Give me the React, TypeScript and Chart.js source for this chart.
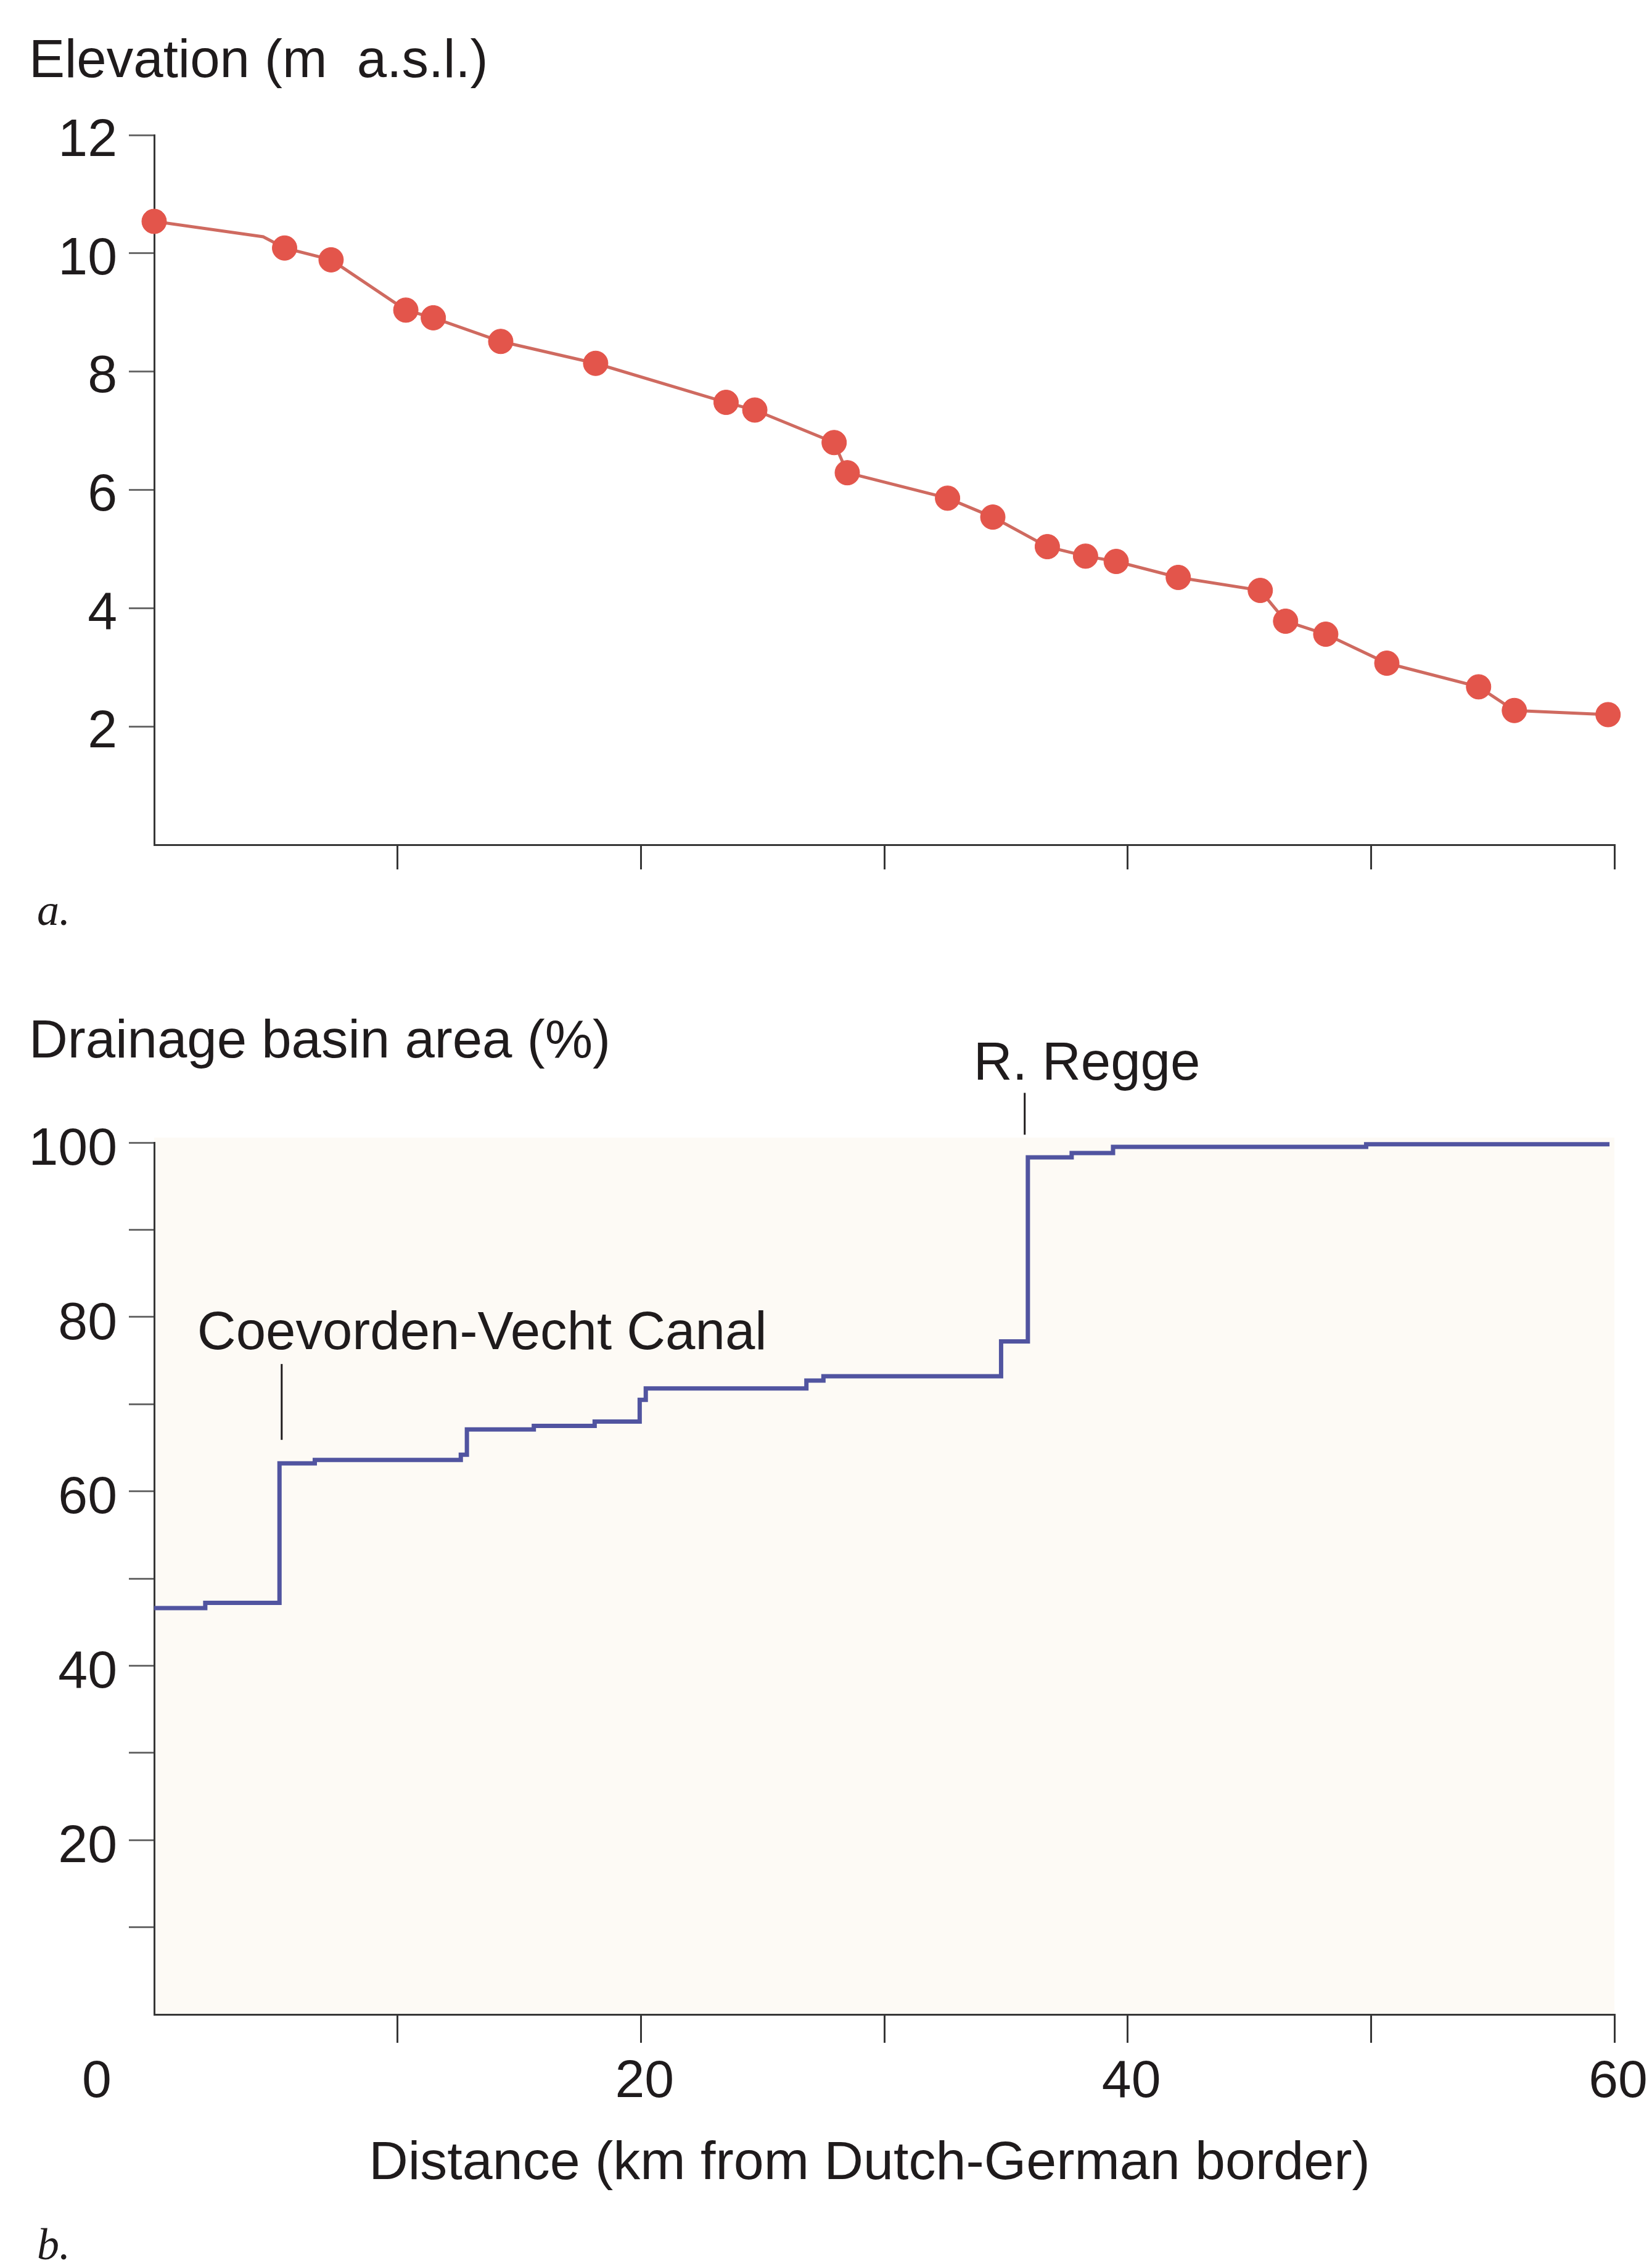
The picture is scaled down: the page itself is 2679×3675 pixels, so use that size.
import React, { useEffect, useRef } from 'react';
import { Chart, registerables } from 'chart.js';

Chart.register(...registerables);

const SANS = '"Liberation Sans", Arial, Helvetica, sans-serif';
const SERIF = '"Liberation Serif", "Times New Roman", serif';
const INK = '#1f1b1c';
const AXIS = '#363636';
const TICK_GREY = '#6a6a6a';
const MARKER_RED = '#e3554b';
const PROFILE_RED = '#cf6a60';
const STEP_BLUE = '#5154a0';
const PAPER = '#fdfaf5';

// ---------- shared x axis ----------
const distanceTicksKm = [0, 10, 20, 30, 40, 50, 60];
const distanceLabelsKm = [0, 20, 40, 60];

// ---------- panel a: elevation profile ----------
const elevationTickLabels = [2, 4, 6, 8, 10, 12];
const surveyKm = [0, 5.36, 7.27, 10.34, 11.47, 14.24, 18.14, 23.5, 24.68, 27.94, 28.48, 32.6, 34.46, 36.7, 38.27, 39.53, 42.08, 45.45, 46.49, 48.14, 50.65, 54.42, 55.89, 59.74];
const surveyElevation = [10.54, 10.09, 9.89, 9.04, 8.91, 8.51, 8.14, 7.48, 7.35, 6.8, 6.29, 5.86, 5.54, 5.04, 4.88, 4.79, 4.52, 4.3, 3.78, 3.56, 3.07, 2.67, 2.27, 2.2];
const profileKm = [0, 4.48, 5.36, 7.27, 10.34, 11.47, 14.24, 18.14, 23.5, 24.68, 27.94, 28.48, 32.6, 34.46, 36.7, 38.27, 39.53, 42.08, 45.45, 46.49, 48.14, 50.65, 54.42, 55.89, 59.74];
const profileElevation = [10.54, 10.28, 10.09, 9.89, 9.04, 8.91, 8.51, 8.14, 7.48, 7.35, 6.8, 6.29, 5.86, 5.54, 5.04, 4.88, 4.79, 4.52, 4.3, 3.78, 3.56, 3.07, 2.67, 2.27, 2.2];

// ---------- panel b: drainage basin area ----------
const basinTickLabels = [20, 40, 60, 80, 100];
const basinStepKm = [0, 2.1, 5.15, 6.6, 12.6, 12.85, 15.6, 18.1, 19.95, 20.2, 26.8, 27.5, 34.8, 35.9, 37.7, 39.4, 49.8, 59.8];
const basinAreaPct = [46.6, 47.2, 63.2, 63.6, 64.2, 67.1, 67.5, 68.0, 70.5, 71.8, 72.7, 73.2, 77.2, 98.3, 98.8, 99.5, 99.8, 99.8];

// annotations (label, leader line km, leader line from/to %, label anchor km / %)
const annotationText = ['Coevorden-Vecht Canal', 'R. Regge'];
const annotationLineKm = [5.24, 35.77];
const annotationLineFromPct = [65.9, 100.9];
const annotationLineToPct = [74.6, 105.7];
const annotationLabelKm = [1.77, 33.67];
const annotationLabelPct = [76.3, 107.2];

const TOP_H = 1560;
const BOTTOM_H = 2115;
const W = 2679;

const tickFont = { family: SANS, size: 86 };

function hideZero(color: string) {
  return (ctx: any) => (ctx.tick && ctx.tick.value === 0 ? 'rgba(0,0,0,0)' : color);
}

const panelAText = {
  id: 'panelAText',
  afterDraw(chart: any) {
    const ctx = chart.ctx;
    ctx.save();
    ctx.fillStyle = INK;
    ctx.textAlign = 'left';
    ctx.textBaseline = 'alphabetic';
    ctx.font = `87px ${SANS}`;
    ctx.fillText('Elevation (m  a.s.l.)', 47, 125);
    ctx.font = `italic 72px ${SERIF}`;
    ctx.fillText('a.', 60, 1500);
    ctx.restore();
  },
};

const panelBDecor = {
  id: 'panelBDecor',
  beforeDraw(chart: any) {
    const { ctx, chartArea } = chart;
    ctx.save();
    ctx.fillStyle = PAPER;
    ctx.fillRect(chartArea.left, chartArea.top - 8, chartArea.right - chartArea.left, chartArea.bottom - chartArea.top + 8);
    ctx.restore();
  },
  afterDraw(chart: any) {
    const ctx = chart.ctx;
    const xs = chart.scales.x;
    const ys = chart.scales.y;
    ctx.save();
    ctx.fillStyle = INK;
    ctx.textAlign = 'left';
    ctx.textBaseline = 'alphabetic';
    ctx.font = `87px ${SANS}`;
    ctx.fillText('Drainage basin area (%)', 47, 155);
    ctx.font = `italic 72px ${SERIF}`;
    ctx.fillText('b.', 60, 2104);

    // annotations
    ctx.font = `87px ${SANS}`;
    ctx.strokeStyle = INK;
    ctx.lineWidth = 3;
    for (let i = 0; i < annotationText.length; i++) {
      const lx = xs.getPixelForValue(annotationLineKm[i]);
      ctx.beginPath();
      ctx.moveTo(lx, ys.getPixelForValue(annotationLineFromPct[i]));
      ctx.lineTo(lx, ys.getPixelForValue(annotationLineToPct[i]));
      ctx.stroke();
      ctx.fillText(annotationText[i], xs.getPixelForValue(annotationLabelKm[i]), ys.getPixelForValue(annotationLabelPct[i]));
    }

    // the "0" distance label sits left of the y axis
    ctx.font = `86px ${SANS}`;
    ctx.textAlign = 'center';
    ctx.textBaseline = 'middle';
    const zeroX = xs.getPixelForValue(distanceLabelsKm[0]) - 93;
    const zeroY = xs.top + 46 + 13 + (86 * 1.2) / 2;
    ctx.fillText(String(distanceLabelsKm[0]), zeroX, zeroY);

    // axis title (drawn slightly left of centre as in the original figure)
    ctx.font = `88px ${SANS}`;
    ctx.textBaseline = 'alphabetic';
    ctx.fillText('Distance (km from Dutch-German border)', (xs.left + xs.right) / 2 - 24, xs.top + 267);
    ctx.restore();
  },
};

function xAxis(tickLength: number, height: number, labelled: boolean) {
  return {
    type: 'linear',
    min: 0,
    max: 60,
    afterBuildTicks: (scale: any) => {
      scale.ticks = distanceTicksKm.map((v) => ({ value: v }));
    },
    ticks: {
      autoSkip: false,
      maxRotation: 0,
      padding: 13,
      labelOffset: 6,
      font: tickFont,
      color: INK,
      callback: (v: any) => (labelled && v !== 0 && distanceLabelsKm.includes(v) ? String(v) : ''),
    },
    grid: {
      drawOnChartArea: false,
      drawTicks: true,
      tickLength,
      lineWidth: 3,
      color: hideZero(AXIS),
      tickColor: hideZero(AXIS),
    },
    border: { display: true, color: AXIS, width: 3 },
    afterFit: (scale: any) => {
      scale.height = height;
    },
  };
}

function yAxis(max: number, step: number, labels: number[], labelOffset: number) {
  return {
    type: 'linear',
    min: 0,
    max,
    ticks: {
      stepSize: step,
      autoSkip: false,
      padding: 19,
      labelOffset,
      font: tickFont,
      color: INK,
      callback: (v: any) => (labels.includes(v) ? String(v) : ''),
    },
    grid: {
      drawOnChartArea: false,
      drawTicks: true,
      tickLength: 41,
      lineWidth: 3,
      color: hideZero(TICK_GREY),
      tickColor: hideZero(TICK_GREY),
    },
    border: { display: true, color: AXIS, width: 3 },
    afterFit: (scale: any) => {
      scale.width = 250;
    },
  };
}

export default function App() {
  const topRef = useRef<HTMLCanvasElement | null>(null);
  const bottomRef = useRef<HTMLCanvasElement | null>(null);

  useEffect(() => {
    document.body.style.margin = '0';
    document.documentElement.style.overflow = 'hidden';

    const top = new Chart(topRef.current as HTMLCanvasElement, {
      type: 'scatter',
      data: {
        datasets: [
          {
            label: 'Survey points',
            data: surveyKm.map((x, i) => ({ x, y: surveyElevation[i] })),
            showLine: false,
            pointRadius: 20,
            pointBackgroundColor: MARKER_RED,
            pointBorderColor: MARKER_RED,
            pointBorderWidth: 1,
            clip: false,
            order: 0,
          },
          {
            label: 'Profile',
            data: profileKm.map((x, i) => ({ x, y: profileElevation[i] })),
            showLine: true,
            borderColor: PROFILE_RED,
            borderWidth: 5,
            pointRadius: 0,
            tension: 0,
            order: 1,
          },
        ],
      } as any,
      options: {
        responsive: false,
        animation: false,
        devicePixelRatio: 1,
        layout: { padding: { top: 219, right: 61, left: 0, bottom: 0 } },
        plugins: { legend: { display: false }, tooltip: { enabled: false }, title: { display: false } },
        scales: {
          x: xAxis(40, TOP_H - 1370, false),
          y: yAxis(12, 2, elevationTickLabels, 10),
        },
      } as any,
      plugins: [panelAText],
    });

    const bottom = new Chart(bottomRef.current as HTMLCanvasElement, {
      type: 'scatter',
      data: {
        datasets: [
          {
            label: 'Drainage basin area',
            data: basinStepKm.map((x, i) => ({ x, y: basinAreaPct[i] })),
            showLine: true,
            stepped: 'before',
            borderColor: STEP_BLUE,
            borderWidth: 7,
            pointRadius: 0,
            clip: false,
          },
        ],
      } as any,
      options: {
        responsive: false,
        animation: false,
        devicePixelRatio: 1,
        layout: { padding: { top: 293, right: 61, left: 0, bottom: 0 } },
        plugins: { legend: { display: false }, tooltip: { enabled: false }, title: { display: false } },
        scales: {
          x: xAxis(46, BOTTOM_H - 1707, true),
          y: yAxis(100, 10, basinTickLabels, 12),
        },
      } as any,
      plugins: [panelBDecor],
    });

    return () => {
      top.destroy();
      bottom.destroy();
    };
  }, []);

  return (
    <div style={{ position: 'absolute', left: 0, top: 0, width: W, height: TOP_H + BOTTOM_H, background: '#ffffff', overflow: 'hidden' }}>
      <canvas ref={topRef} width={W} height={TOP_H} style={{ display: 'block', width: W, height: TOP_H }} />
      <canvas ref={bottomRef} width={W} height={BOTTOM_H} style={{ display: 'block', width: W, height: BOTTOM_H }} />
    </div>
  );
}
